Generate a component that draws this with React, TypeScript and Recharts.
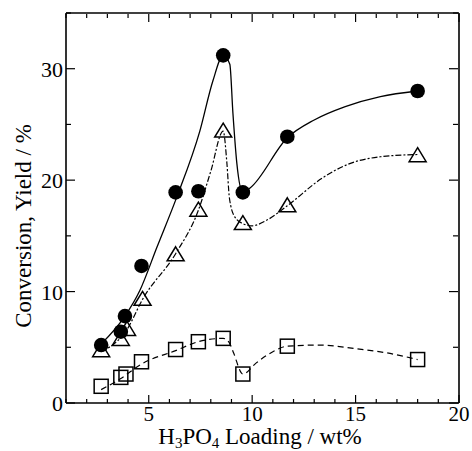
import { ComposedChart, Line, Scatter, XAxis, YAxis } from "recharts"

// measured points
const convLoading = [2.7, 3.65, 3.85, 4.65, 6.3, 7.4, 8.6, 9.55, 11.7, 18.0]
const conversion = [5.2, 6.4, 7.8, 12.3, 18.9, 19.0, 31.2, 18.9, 23.9, 28.0]

const triLoading = [2.7, 3.65, 3.95, 4.7, 6.3, 7.4, 8.6, 9.55, 11.7, 18.0]
const yieldTri = [4.7, 5.7, 6.6, 9.3, 13.3, 17.3, 24.4, 16.1, 17.7, 22.2]

const sqLoading = [2.7, 3.65, 3.9, 4.65, 6.3, 7.4, 8.6, 9.55, 11.7, 18.0]
const yieldSq = [1.5, 2.3, 2.6, 3.7, 4.8, 5.5, 5.8, 2.6, 5.1, 3.9]

// guide curves as drawn in the figure
const convCurveX = [2.7, 3.85, 4.57, 5.4, 6.36, 7.47, 8.1, 8.6, 8.92, 9.07, 9.26, 9.55, 9.9, 11.7, 13.0, 14.5, 16.2, 18.0]
const convCurveY = [5.3, 7.8, 10.1, 14.0, 18.5, 24.4, 28.9, 31.2, 30.4, 26.0, 21.5, 18.9, 19.3, 23.8, 25.4, 26.6, 27.5, 28.0]

const triCurveX = [2.7, 3.95, 4.7, 6.3, 7.4, 8.0, 8.6, 8.78, 8.9, 9.16, 9.55, 10.0, 10.7, 11.7, 13.4, 14.6, 16.2, 18.0]
const triCurveY = [4.6, 6.6, 9.3, 13.4, 17.3, 20.8, 24.4, 21.5, 18.4, 16.7, 16.1, 15.9, 16.4, 17.7, 20.2, 21.4, 22.1, 22.3]

const sqCurveX = [2.7, 3.65, 4.65, 6.3, 7.4, 8.6, 8.9, 9.1, 9.55, 10.2, 11.0, 11.7, 13.3, 14.9, 16.5, 18.0]
const sqCurveY = [1.2, 2.2, 3.5, 4.7, 5.5, 5.8, 5.4, 4.5, 2.6, 3.6, 4.6, 5.1, 5.2, 4.9, 4.5, 3.9]

const xTicks = [1, 2, 3, 4, 5, 6, 7, 8, 9, 10, 11, 12, 13, 14, 15, 16, 17, 18, 19, 20]
const yTicks = [0, 5, 10, 15, 20, 25, 30, 35]

const font = "'Liberation Serif', 'Times New Roman', serif"

const pts = (xs: number[], ys: number[]) => xs.map((x, i) => ({ x, y: ys[i] }))

function BottomTick({ x, y, payload }: any) {
  const major = payload.value % 5 === 0
  return (
    <g>
      <line x1={x} y1={y} x2={x} y2={y - (major ? 8 : 4)} stroke="#000" strokeWidth={1.2} />
      {major && (
        <text x={x} y={y + 18} textAnchor="middle" fontSize={21} fontFamily={font} fill="#000">
          {payload.value}
        </text>
      )}
    </g>
  )
}

// top axis sits 1px above the plot, so ticks start from y + 1
function TopTick({ x, y, payload }: any) {
  const major = payload.value % 5 === 0
  return <line x1={x} y1={y + 1} x2={x} y2={y + 1 + (major ? 8 : 4)} stroke="#000" strokeWidth={1.2} />
}

function LeftTick({ x, y, payload }: any) {
  const major = payload.value % 10 === 0
  return (
    <g>
      <line x1={x} y1={y} x2={x + (major ? 9 : 5)} y2={y} stroke="#000" strokeWidth={1.2} />
      {major && (
        <text x={x - 3} y={y + 8} textAnchor="end" fontSize={22} fontFamily={font} fill="#000">
          {payload.value}
        </text>
      )}
    </g>
  )
}

function RightTick({ x, y, payload }: any) {
  const major = payload.value % 10 === 0
  return <line x1={x - 1} y1={y} x2={x - 1 - (major ? 9 : 5)} y2={y} stroke="#000" strokeWidth={1.2} />
}

function XLabel({ viewBox }: any) {
  const by = viewBox.y + 41
  return (
    <text x={260} y={by} textAnchor="middle" fontSize={23} fontFamily={font} fill="#000">
      H<tspan fontSize={15} dy={4}>3</tspan>
      <tspan dy={-4}>PO</tspan>
      <tspan fontSize={15} dy={4}>4</tspan>
      <tspan dy={-4}> Loading / wt%</tspan>
    </text>
  )
}

const YLabel = () => (
  <text x={31} y={226} transform="rotate(-90 31 226)" textAnchor="middle" fontSize={23} fontFamily={font} fill="#000">
    Conversion, Yield / %
  </text>
)

const Disc = ({ cx, cy }: any) => <circle cx={cx} cy={cy} r={7.3} fill="#000" />
const Tri = ({ cx, cy }: any) => (
  <path
    d={`M${cx},${cy - 8} L${cx + 8.5},${cy + 6} L${cx - 8.5},${cy + 6} Z`}
    fill="none"
    stroke="#000"
    strokeWidth={1.5}
  />
)
const Sq = ({ cx, cy }: any) => (
  <rect x={cx - 7} y={cy - 7} width={14} height={14} fill="none" stroke="#000" strokeWidth={1.5} />
)

export default function App() {
  return (
    <div style={{ position: "absolute", left: 0, top: 0, background: "#fff" }}>
      <ComposedChart width={472} height={451} margin={{ top: 12, right: 12, bottom: 0, left: 0 }}>
        <XAxis
          type="number"
          dataKey="x"
          domain={[1, 20]}
          ticks={xTicks}
          interval={0}
          tickSize={0}
          tickMargin={0}
          tick={<BottomTick />}
          height={48}
          axisLine={{ stroke: "#000", strokeWidth: 1.6 }}
          allowDataOverflow
          label={<XLabel />}
        />
        <XAxis
          xAxisId="top"
          orientation="top"
          type="number"
          dataKey="x"
          domain={[1, 20]}
          ticks={xTicks}
          interval={0}
          tickSize={0}
          tickMargin={0}
          tick={<TopTick />}
          height={1}
          axisLine={{ stroke: "#000", strokeWidth: 1.6 }}
          allowDataOverflow
        />
        <YAxis
          type="number"
          domain={[0, 35]}
          ticks={yTicks}
          interval={0}
          tickSize={0}
          tickMargin={0}
          tick={<LeftTick />}
          width={66}
          axisLine={{ stroke: "#000", strokeWidth: 1.6 }}
          allowDataOverflow
          label={<YLabel />}
        />
        <YAxis
          yAxisId="right"
          orientation="right"
          type="number"
          domain={[0, 35]}
          ticks={yTicks}
          interval={0}
          tickSize={0}
          tickMargin={0}
          tick={<RightTick />}
          width={1}
          axisLine={{ stroke: "#000", strokeWidth: 1.6 }}
          allowDataOverflow
        />
        {/* invisible series so the frame axes on top and right get drawn */}
        <Line
          xAxisId="top"
          yAxisId="right"
          data={pts(convLoading, conversion)}
          dataKey="y"
          stroke="none"
          dot={false}
          activeDot={false}
          isAnimationActive={false}
        />
        <Line
          data={pts(convCurveX, convCurveY)}
          dataKey="y"
          type="monotone"
          stroke="#000"
          strokeWidth={1.3}
          dot={false}
          isAnimationActive={false}
        />
        <Line
          data={pts(triCurveX, triCurveY)}
          dataKey="y"
          type="monotone"
          stroke="#000"
          strokeWidth={1.2}
          strokeDasharray="6 2 2 2"
          dot={false}
          isAnimationActive={false}
        />
        <Line
          data={pts(sqCurveX, sqCurveY)}
          dataKey="y"
          type="monotone"
          stroke="#000"
          strokeWidth={1.2}
          strokeDasharray="6 4"
          dot={false}
          isAnimationActive={false}
        />
        <Scatter data={pts(convLoading, conversion)} dataKey="y" shape={<Disc />} isAnimationActive={false} />
        <Scatter data={pts(triLoading, yieldTri)} dataKey="y" shape={<Tri />} isAnimationActive={false} />
        <Scatter data={pts(sqLoading, yieldSq)} dataKey="y" shape={<Sq />} isAnimationActive={false} />
      </ComposedChart>
    </div>
  )
}
